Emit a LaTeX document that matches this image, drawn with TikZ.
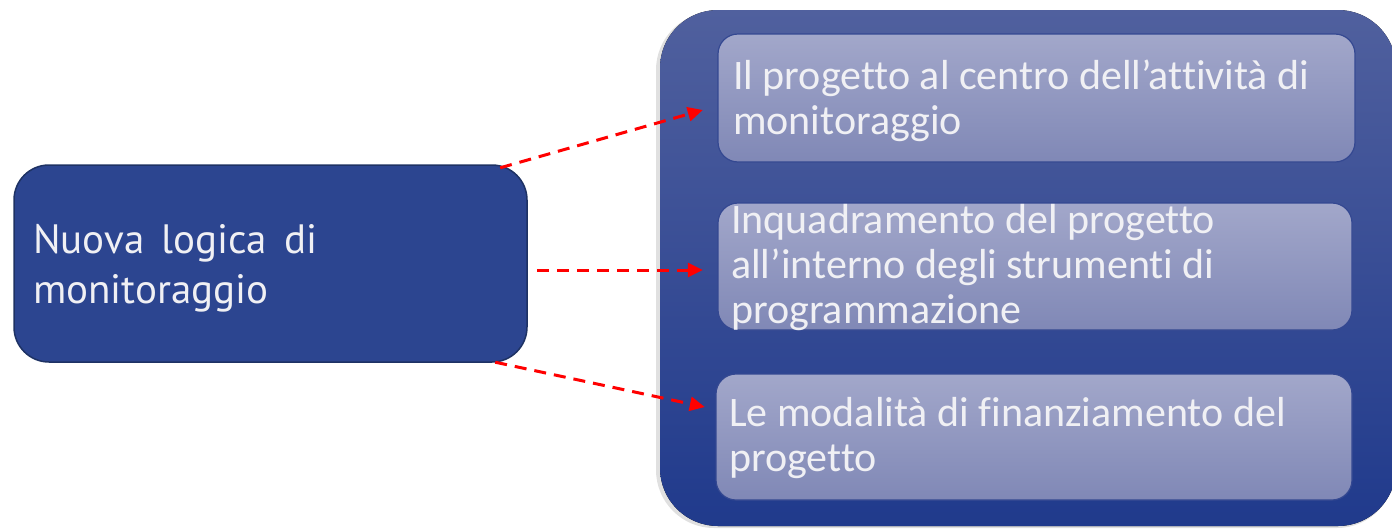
\documentclass[tikz,border=0pt]{standalone}
\usepackage{fontspec}
\setmainfont{PT Sans}
\newfontfamily\narrowfont[Ligatures={NoCommon}]{Carlito}
\usetikzlibrary{arrows.meta,calc}
\definecolor{leftfill}{RGB}{44,69,144}
\definecolor{leftdraw}{RGB}{30,50,100}
\definecolor{bigtop}{RGB}{80,96,158}
\definecolor{bigbot}{RGB}{32,58,140}
\definecolor{innertop}{RGB}{162,167,202}
\definecolor{innerbot}{RGB}{128,136,182}
\definecolor{innerdraw}{RGB}{52,72,145}
\definecolor{txt}{RGB}{240,240,244}
\tikzset{
  leftbox/.style={draw=leftdraw, line width=1.5pt, fill=leftfill, rounded corners=35pt},
  bigbox/.style={top color=bigtop, bottom color=bigbot, draw=none, rounded corners=58pt},
  innerbox/.style={top color=innertop, bottom color=innerbot, draw=innerdraw, line width=1.2pt, rounded corners=20pt},
  ltext/.style={anchor=north west, inner sep=0pt, text=txt, align=left, font=\fontsize{41}{50}\selectfont},
  rtext/.style={anchor=north west, inner sep=0pt, text=txt, align=left, font=\narrowfont\fontsize{42}{45}\selectfont},
  link/.style={draw=red, line width=3pt, dash pattern=on 12pt off 8pt, -{Triangle[length=15pt,width=14pt]}}
}
\begin{document}
\begin{tikzpicture}[x=1pt,y=-1pt]
\useasboundingbox (0,0) rectangle (1392,528);
% left box
\draw[leftbox] (14,165) rectangle (527,362);
\node[inner sep=0pt, minimum width=513pt, minimum height=197pt] (L) at (270.5,263.5) {};
\node[ltext] (Lt) at (33,224) {Nuova\hspace{6pt} logica\hspace{6pt} di\\monitoraggio};
% shadow + big box
\fill[black, opacity=0.12, rounded corners=58pt] (656,12) rectangle (1395,528);
\fill[bigbox] (660,10) rectangle (1396,526);
\node[inner sep=0pt, minimum width=736pt, minimum height=516pt] (R) at (1028,268) {};
% inner boxes
\draw[innerbox] (718,34) rectangle (1355,162);
\node[inner sep=0pt, minimum width=637pt, minimum height=128pt] (B1) at (1036.5,98) {};
\draw[innerbox] (718,203) rectangle (1352,330);
\node[inner sep=0pt, minimum width=634pt, minimum height=127pt] (B2) at (1035,266.5) {};
\draw[innerbox] (716,374) rectangle (1352,500);
\node[inner sep=0pt, minimum width=636pt, minimum height=126pt] (B3) at (1034,437) {};
% texts
\node[rtext] (T1) at (733,60) {Il progetto al centro dell’attività di\\monitoraggio};
\node[rtext] (T2) at (731,204) {Inquadramento del progetto\\all’interno degli strumenti di\\programmazione};
\node[rtext] (T3) at (729,397) {Le modalità di finanziamento del\\progetto};
% arrows
\draw[link] ($(L.north east)+(-27,3)$) -- ($(B1.west)+(-15,12)$);
\draw[link] ($(L.east)+(10,6.5)$) -- ($(B2.west)+(-15,3.5)$);
\draw[link] ($(L.south east)+(-32,0)$) -- ($(B3.west)+(-11,-30)$);
\end{tikzpicture}
\end{document}
